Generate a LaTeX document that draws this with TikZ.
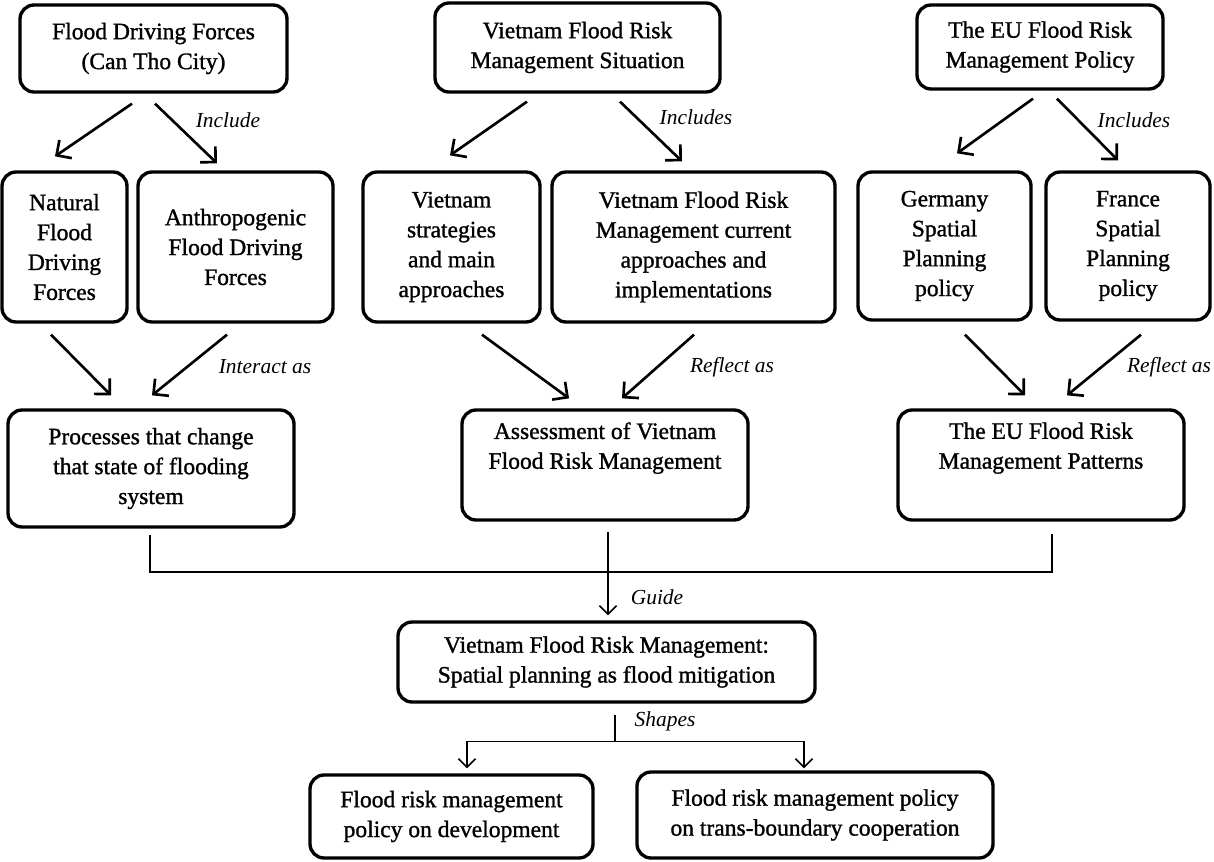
\documentclass[tikz,border=0pt]{standalone}
\usepackage{fontspec}
\setmainfont{Liberation Serif}
\newfontfamily\boxfont[FakeBold=1.2]{Liberation Serif}
\usetikzlibrary{arrows.meta}

\tikzset{
  box/.style={draw, line width=1.9pt, rounded corners=8pt, align=center, inner sep=2pt,
    font=\boxfont\fontsize{13.4}{17}\selectfont},
  lbl/.style={font=\fontsize{12.2}{14}\selectfont\itshape},
  arr/.style={line width=1.5pt, -{Straight Barb[length=2.2mm,width=4.4mm]}},
  link/.style={line width=0.9pt},
  larr/.style={line width=0.9pt, -{Straight Barb[length=1.7mm,width=3.4mm]}}
}

\begin{document}
\begin{tikzpicture}
            \useasboundingbox (0,0) rectangle (24.28,-17.24);
            % top row
            \node[box,minimum width=5.34cm,minimum height=1.74cm] (drivers) at (3.07,-0.97) {Flood Driving Forces\\(Can Tho City)};
            \node[box,minimum width=5.7cm,minimum height=1.78cm] (situation) at (11.55,-0.95) {Vietnam Flood Risk\\Management Situation};
            \node[box,minimum width=4.92cm,minimum height=1.68cm] (policy) at (20.8,-0.94) {The EU Flood Risk\\Management Policy};

            % second row
            \node[box,minimum width=2.5cm,minimum height=3cm] (natural) at (1.29,-4.94) {Natural\\Flood\\Driving\\Forces};
            \node[box,minimum width=3.9cm,minimum height=3cm] (anthro) at (4.71,-4.94) {Anthropogenic\\Flood Driving\\Forces};
            \node[box,minimum width=3.54cm,minimum height=3cm] (strat) at (9.03,-4.94) {Vietnam\\strategies\\and main\\approaches};
            \node[box,minimum width=5.66cm,minimum height=3cm] (current) at (13.87,-4.94) {Vietnam Flood Risk\\Management current\\approaches and\\implementations};
            \node[box,minimum width=3.46cm,minimum height=2.96cm] (germany) at (18.89,-4.92) {Germany\\Spatial\\Planning\\policy};
            \node[box,minimum width=3.28cm,minimum height=2.96cm] (france) at (22.56,-4.92) {France\\Spatial\\Planning\\policy};

            % third row
            \node[box,minimum width=5.72cm,minimum height=2.34cm] (processes) at (3.02,-9.37) {Processes that change\\that state of flooding\\system};
            \node[box,minimum width=5.72cm,minimum height=2.2cm] (assess) at (12.1,-9.3) {Assessment of Vietnam\\Flood Risk Management\\\strut};
            \node[box,minimum width=5.72cm,minimum height=2.2cm] (patterns) at (20.82,-9.3) {The EU Flood Risk\\Management Patterns\\\strut};

            % lower part
            \node[box,minimum width=8.34cm,minimum height=1.6cm] (spatial) at (12.13,-13.24) {Vietnam Flood Risk Management:\\Spatial planning as flood mitigation};
            \node[box,minimum width=5.66cm,minimum height=1.66cm] (dev) at (9.03,-16.33) {Flood risk management\\policy on development};
            \node[box,minimum width=7.12cm,minimum height=1.72cm] (coop) at (16.3,-16.3) {Flood risk management policy\\on trans-boundary cooperation};

            % labels
            \node[lbl] (linclude) at (4.56,-2.4) {Include};
            \node[lbl] (lincludes) at (13.92,-2.34) {Includes};
            \node[lbl] (lincludeseu) at (22.68,-2.4) {Includes};
            \node[lbl] (linteract) at (5.3,-7.34) {Interact as};
            \node[lbl] (lreflect) at (14.64,-7.34) {Reflect as};
            \node[lbl] (lreflecteu) at (23.38,-7.34) {Reflect as};
            \node[lbl] (lguide) at (13.14,-11.94) {Guide};
            \node[lbl] (lshapes) at (13.3,-14.42) {Shapes};

            % arrows top -> second row
            \draw[arr] ([xshift=-0.43cm,yshift=-0.2cm]drivers.south)--([xshift=-0.19cm,yshift=0.28cm]natural.north);
            \draw[arr] ([xshift=0.03cm,yshift=-0.2cm]drivers.south)--([xshift=-0.37cm,yshift=0.14cm]anthro.north);
            \draw[arr] ([xshift=-1.01cm,yshift=-0.16cm]situation.south)--([xshift=-0.03cm,yshift=0.3cm]strat.north);
            \draw[arr] ([xshift=0.85cm,yshift=-0.16cm]situation.south)--([xshift=-0.23cm,yshift=0.18cm]current.north);
            \draw[arr] ([xshift=-0.14cm,yshift=-0.16cm]policy.south)--([xshift=0.25cm,yshift=0.34cm]germany.north);
            \draw[arr] ([xshift=0.34cm,yshift=-0.16cm]policy.south)--([xshift=-0.2cm,yshift=0.2cm]france.north);

            % arrows second -> third row
            \draw[arr] ([xshift=-0.27cm,yshift=-0.22cm]natural.south)--([xshift=-0.8cm,yshift=0.26cm]processes.north);
            \draw[arr] ([xshift=-0.17cm,yshift=-0.22cm]anthro.south)--([xshift=0.02cm,yshift=0.26cm]processes.north);
            \draw[arr] ([xshift=0.61cm,yshift=-0.22cm]strat.south)--([xshift=-0.72cm,yshift=0.2cm]assess.north);
            \draw[arr] ([xshift=0.01cm,yshift=-0.22cm]current.south)--([xshift=0.34cm,yshift=0.2cm]assess.north);
            \draw[arr] ([xshift=0.41cm,yshift=-0.26cm]germany.south)--([xshift=-0.32cm,yshift=0.26cm]patterns.north);
            \draw[arr] ([xshift=0.26cm,yshift=-0.26cm]france.south)--([xshift=0.52cm,yshift=0.26cm]patterns.north);

            % joining line and guide
            \coordinate (join) at (12.16,-11.44);
            \draw[link] ([xshift=-0.02cm,yshift=-0.12cm]processes.south) |- (join) -| ([xshift=0.22cm,yshift=-0.24cm]patterns.south);
            \draw[larr] ([xshift=0.06cm,yshift=-0.2cm]assess.south)--([xshift=0.03cm,yshift=0.1cm]spatial.north);

            % shapes
            \draw[link] ([xshift=0.17cm,yshift=-0.22cm]spatial.south)--++(0,-0.54) coordinate (split);
            \draw[larr] (split) -| ([xshift=0.31cm,yshift=0.1cm]dev.north);
            \draw[larr] (split) -| ([xshift=-0.22cm,yshift=0.04cm]coop.north);
        \end{tikzpicture}
\end{document}
